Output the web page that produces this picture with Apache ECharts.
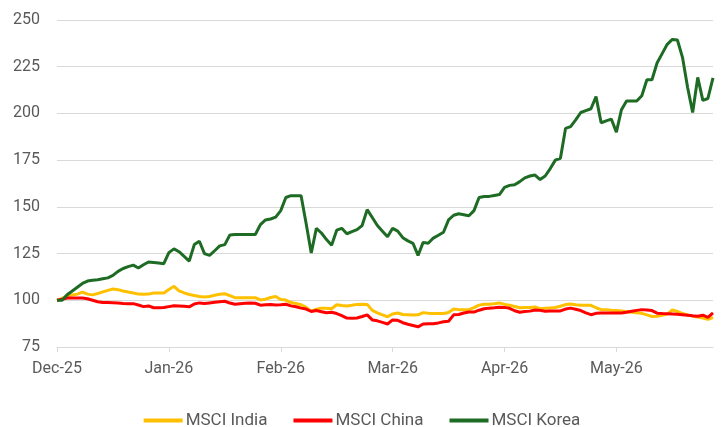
<!DOCTYPE html>
<html>
<head>
<meta charset="utf-8">
<script src="https://cdn.jsdelivr.net/npm/echarts@6/dist/echarts.min.js"></script>
<style>
html,body{margin:0;padding:0;background:#fff;}
#chart{width:724px;height:427px;}
</style>
</head>
<body>
<div id="chart"></div>
<script>
// Month tick labels (one every 22 trading days)
const tickLabels = ['Dec-25', 'Jan-26', 'Feb-26', 'Mar-26', 'Apr-26', 'May-26'];
const seriesNames = ['MSCI India', 'MSCI China', 'MSCI Korea'];

const msciIndia = [
  100, 101, 102.4, 102.8, 103.3, 104.4, 103.3, 102.9, 103.6, 104.5,
  105.3, 106, 105.7, 105, 104.4, 103.9, 103.3, 103.2, 103.3, 103.9,
  103.9, 103.9, 105.8, 107.5, 105, 104, 103.1, 102.6, 102, 101.8,
  102, 102.7, 103.2, 103.5, 102.5, 101.4, 101.4, 101.4, 101.4, 101.4,
  100.2, 100.6, 101.5, 102, 100.4, 100.1, 98.8, 98.3, 97.6, 96.2,
  94.2, 95.2, 95.8, 95.7, 95.5, 97.6, 97.2, 96.9, 97.3, 97.8,
  97.9, 97.8, 94.6, 93.3, 92.2, 91.2, 92.7, 93.2, 92.4, 92.3,
  92.1, 92.2, 93.4, 93.1, 92.9, 92.9, 92.9, 93.5, 95.3, 95,
  95, 95, 96.1, 97.4, 97.9, 97.9, 98.2, 98.6, 97.8, 97.3,
  96.7, 96, 96.1, 96.2, 96.4, 95.5, 95.7, 95.9, 96.1, 96.8,
  97.7, 98, 97.6, 97.3, 97.3, 97.3, 96, 95, 94.9, 94.7,
  94.6, 94.3, 94, 93.6, 93.3, 93, 92.2, 91.3, 91.5, 92,
  92.6, 94.8, 94, 92.9, 92.2, 91.5, 91, 90.5, 89.8, 90.8
];

const msciChina = [
  100, 100.6, 101.2, 101.2, 101.2, 101.2, 100.8, 100, 99.2, 98.8,
  98.8, 98.7, 98.5, 98.3, 98.2, 98.2, 97.5, 96.6, 97, 96,
  96, 96.1, 96.6, 97.1, 97, 96.8, 96.5, 98, 98.6, 98.3,
  98.6, 98.9, 99.2, 99.5, 98.5, 97.9, 98.2, 98.4, 98.6, 98.4,
  97.4, 97.6, 97.8, 97.5, 97.6, 97.9, 97, 96.5, 95.8, 95.3,
  94, 94.5, 93.9, 93.3, 93.6, 92.9, 91.8, 90.5, 90.4, 90.5,
  91.3, 92.2, 89.5, 89, 88.2, 87.3, 89.5, 89.3, 88, 87.2,
  86.5, 85.8, 87.3, 87.5, 87.5, 87.9, 88.5, 88.8, 92.2, 92.4,
  93.2, 93.7, 93.7, 94.7, 95.5, 95.8, 96, 96.3, 96.2, 95.7,
  94.4, 93.6, 94, 94.2, 94.8, 94.6, 94.1, 94.2, 94.3, 94.3,
  95.3, 95.8, 95.2, 94.5, 93.3, 92.3, 93, 93.2, 93.2, 93.2,
  93.2, 93.2, 93.6, 94.1, 94.6, 95, 94.8, 94.5, 93.1, 92.9,
  92.8, 92.7, 92.5, 92.3, 92, 91.7, 91.5, 92, 90.8, 93.2
];

const msciKorea = [
  100, 100, 103, 105, 107, 109, 110.3, 110.7, 111, 111.5,
  112, 113.3, 115.5, 117, 118, 118.8, 117.3, 119, 120.5, 120.2,
  119.9, 119.6, 125.5, 127.5, 126, 123.5, 121, 129.8, 131.6, 125,
  124, 126.5, 129.1, 129.8, 135, 135.2, 135.2, 135.2, 135.2, 135.2,
  140.5, 143, 143.5, 144.5, 148, 155, 156, 155.9, 155.9, 141,
  125.3, 138.5, 136, 132.5, 129.5, 137.5, 138.5, 135.6, 136.7, 137.8,
  140, 148.5, 144.3, 140, 137, 134, 138.5, 137, 133.5, 131.8,
  130.5, 124, 131, 130.5, 133.3, 134.8, 136.4, 143, 145.5, 146.3,
  145.8, 145.2, 148, 155, 155.5, 155.6, 156.1, 156.6, 160.4, 161.5,
  161.8, 163.5, 165.5, 166.5, 167, 164.6, 166.5, 170.5, 175, 176,
  192, 192.9, 196.5, 200.5, 201.5, 202.5, 209, 195, 196, 197,
  190, 202, 206.6, 206.6, 206.6, 209.5, 218, 218, 227, 232,
  237, 239.6, 239.3, 230, 214, 200.5, 219.3, 207, 208, 219
];

const categories = msciKorea.map((_, i) => String(i));
const perMonth = 22;

const chart = echarts.init(document.getElementById('chart'), null, {renderer: 'canvas'});
const font = 'Roboto, "Liberation Sans", sans-serif';

chart.setOption({
  animation: false,
  backgroundColor: '#ffffff',
  grid: {left: 57, right: 11, top: 20, bottom: 80, containLabel: false},
  legend: {
    top: 407,
    left: 'center',
    itemWidth: 39,
    itemHeight: 4,
    itemGap: 26,
    icon: 'rect',
    textStyle: {color: '#595959', fontSize: 17, fontFamily: font, padding: [0, 0, 0, -2]},
    data: seriesNames
  },
  xAxis: {
    type: 'category',
    data: categories,
    boundaryGap: false,
    axisLine: {show: true, lineStyle: {color: '#d9d9d9', width: 1}},
    axisTick: {show: true, interval: perMonth - 1, length: 5, lineStyle: {color: '#d9d9d9'}},
    axisLabel: {
      interval: perMonth - 1,
      margin: 14,
      color: '#595959',
      fontSize: 16,
      fontFamily: font,
      formatter: (v, idx) => (idx % perMonth === 0 ? (tickLabels[idx / perMonth] || '') : '')
    },
    splitLine: {show: false}
  },
  yAxis: {
    type: 'value',
    min: 75,
    max: 250,
    interval: 25,
    axisLine: {show: false},
    axisTick: {show: false},
    axisLabel: {color: '#595959', fontSize: 16, fontFamily: font, margin: 17},
    splitLine: {lineStyle: {color: '#d9d9d9', width: 1}}
  },
  series: [
    {name: seriesNames[0], type: 'line', data: msciIndia, showSymbol: false, symbol: 'none',
     lineStyle: {color: '#FFC000', width: 3}, itemStyle: {color: '#FFC000'}},
    {name: seriesNames[1], type: 'line', data: msciChina, showSymbol: false, symbol: 'none',
     lineStyle: {color: '#FF0000', width: 3}, itemStyle: {color: '#FF0000'}},
    {name: seriesNames[2], type: 'line', data: msciKorea, showSymbol: false, symbol: 'none',
     lineStyle: {color: '#1E6B24', width: 3}, itemStyle: {color: '#1E6B24'}}
  ]
});
</script>
</body>
</html>
